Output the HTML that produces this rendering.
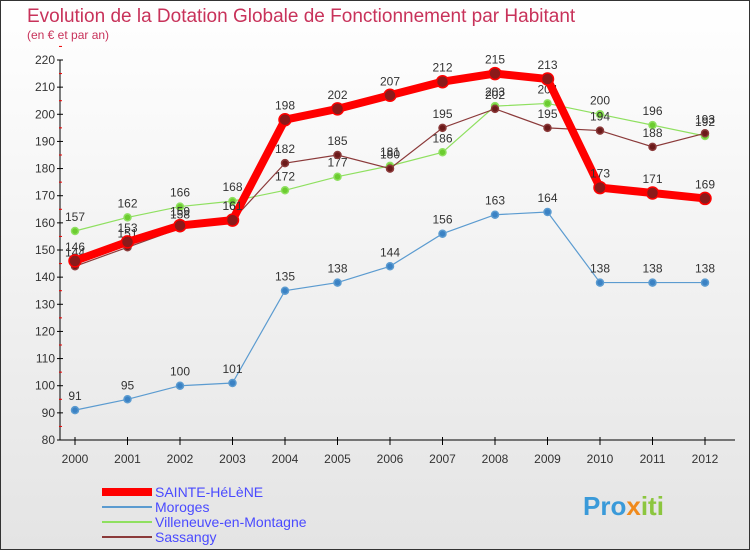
<!DOCTYPE html>
<html><head><meta charset="utf-8"><style>
body{margin:0;width:750px;height:550px;overflow:hidden;font-family:"Liberation Sans",sans-serif}
svg text{font-family:"Liberation Sans",sans-serif}
</style></head><body>
<svg id="c" width="750" height="550">
<defs><linearGradient id="bg" x1="0" y1="0" x2="0" y2="1"><stop offset="0" stop-color="#ffffff"/><stop offset="1" stop-color="#e4e4e4"/></linearGradient></defs>
<rect x="0.5" y="0.5" width="749" height="549" fill="url(#bg)" stroke="#333"/>
<text x="27" y="22" font-size="19" fill="#c8325a">Evolution de la Dotation Globale de Fonctionnement par Habitant</text>
<text x="27" y="39" font-size="12" fill="#c8325a">(en € et par an)</text>
<g id="axes"></g><g id="series"></g><g id="legend"></g>
<text x="583" y="515" font-size="26" font-weight="bold" fill="#3a9ad9">Pro<tspan fill="#f08a1c">x</tspan><tspan fill="#8cc63f">iti</tspan></text>
</svg>
<script>
const years=[2000,2001,2002,2003,2004,2005,2006,2007,2008,2009,2010,2011,2012];
const yTicks=[80,90,100,110,120,130,140,150,160,170,180,190,200,210,220];
const sainteHelene=[146,153,159,161,198,202,207,212,215,213,173,171,169];
const moroges=[91,95,100,101,135,138,144,156,163,164,138,138,138];
const villeneuve=[157,162,166,168,172,177,181,186,203,204,200,196,192];
const sassangy=[144,151,158,161,182,185,180,195,202,195,194,188,193];
const NS="http://www.w3.org/2000/svg";
const xs=i=>75+i*52.5;
const ys=v=>440-(v-80)*380/140;
function mk(tag,attrs,parent,txt){const e=document.createElementNS(NS,tag);for(const k in attrs)e.setAttribute(k,attrs[k]);if(txt!==undefined)e.textContent=txt;parent.appendChild(e);return e;}
const ax=document.getElementById('axes');
const yl=mk('line',{x1:60,y1:60,x2:60,y2:440,stroke:'#000'},ax);


const xl=mk('line',{x1:60,y1:440,x2:735,y2:440,stroke:'#000'},ax);


yTicks.forEach(v=>{
  mk('line',{x1:57,x2:63,y1:ys(v),y2:ys(v),stroke:'#000'},ax);
  mk('line',{x1:59,x2:62,y1:ys(v+5),y2:ys(v+5),stroke:'#e00'},ax);
  const t=mk('text',{x:55,y:ys(v)+4,'font-size':12,'text-anchor':'end',fill:'#333'},ax,v);
  
  
});
years.forEach((y,i)=>{
  mk('line',{x1:xs(i),x2:xs(i),y1:437,y2:445,stroke:'#000'},ax);
  const t=mk('text',{x:xs(i),y:463,'font-size':12,'text-anchor':'middle',fill:'#333'},ax,y);
  
  
});
const sg=document.getElementById('series');
function draw(vals,color,w,r,name,dot){
  const g=mk('g',{},sg);
  
  
  mk('polyline',{points:vals.map((v,i)=>xs(i)+','+ys(v)).join(' '),fill:'none',stroke:color,'stroke-width':w},g);
  vals.forEach((v,i)=>{
    const c=mk('circle',{cx:xs(i),cy:ys(v),r:r,fill:dot,stroke:color,'stroke-width':1.5},g);
    
    
    const t=mk('text',{x:xs(i),y:ys(v)-10,'font-size':12,'text-anchor':'middle',fill:'#333'},g,v);
    
    
  });
}
draw(moroges,'#5b9bd0',1.2,3.5,'moroges-series','#3b82c4');
draw(villeneuve,'#8fe060',1.2,3.5,'villeneuve-series','#6ccc30');
draw(sassangy,'#8b3a3a',1.2,3.5,'sassangy-series','#6b1a1a');
draw(sainteHelene,'#ff0000',8,6,'sainte-helene-series','#8b1a1a');
const lg=document.getElementById('legend');
const items=[['SAINTE-HéLèNE','#ff0000',8],['Moroges','#5b9bd0',2],['Villeneuve-en-Montagne','#8fe060',2],['Sassangy','#8b3a3a',2]];
items.forEach((it,i)=>{
  const y=492+i*15;
  const g=mk('g',{},lg);
  
  
  mk('line',{x1:102,x2:152,y1:y,y2:y,stroke:it[1],'stroke-width':it[2]},g);
  mk('text',{x:155,y:y+5,'font-size':14,fill:'#4a4aff'},g,it[0]);
});
</script>
</body></html>
